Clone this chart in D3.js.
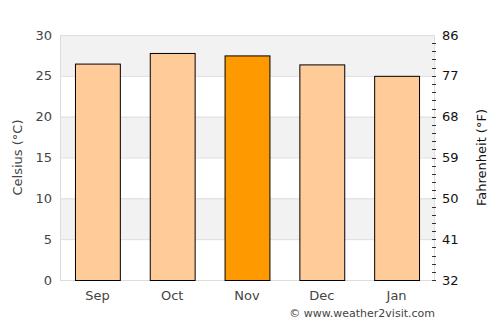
<!DOCTYPE html>
<html>
<head>
<meta charset="utf-8">
<script src="https://cdn.jsdelivr.net/npm/d3@7"></script>
<style>
    body { margin: 0; background: #fff; }
    text { font-family: "DejaVu Sans", sans-serif; fill: #444; }
    .right text, text.right { fill: #111; }
</style>
</head>
<body>
<div id="chart"></div>
<script>
// Data
const months = ["Sep", "Oct", "Nov", "Dec", "Jan"];
const tempC = [26.5, 27.8, 27.5, 26.4, 25.0];
const highlight = "Nov";
const celsiusTicks = [0, 5, 10, 15, 20, 25, 30];
const fahrenheitTicks = [32, 41, 50, 59, 68, 77, 86];

const width = 500, height = 325;
const margin = { top: 35, right: 66, bottom: 45, left: 60 };
const innerW = width - margin.left - margin.right;
const innerH = height - margin.top - margin.bottom;

var svg = d3.select("#chart")
    .append("svg")
    .attr("width", width)
    .attr("height", height);

var g = svg.append("g")
    .attr("transform", "translate(" + margin.left + "," + margin.top + ")");

var x = d3.scaleBand()
    .domain(months)
    .range([0, innerW])
    .paddingInner(0.4)
    .paddingOuter(0.2);

var y = d3.scaleLinear().domain([0, 30]).range([innerH, 0]);
var yF = d3.scaleLinear().domain([32, 86]).range([innerH, 0]);

// alternating bands
for (let i = 0; i < celsiusTicks.length - 1; i++) {
    if (i % 2 === 1) {
        g.append("rect")
            .attr("x", 0)
            .attr("y", y(celsiusTicks[i + 1]))
            .attr("width", innerW)
            .attr("height", y(celsiusTicks[i]) - y(celsiusTicks[i + 1]))
            .attr("fill", "#f2f2f2");
    }
}

// gridlines
g.selectAll(".grid")
    .data(celsiusTicks)
    .enter()
    .append("line")
    .attr("x1", 0)
    .attr("x2", innerW)
    .attr("y1", d => y(d) + 0.5)
    .attr("y2", d => y(d) + 0.5)
    .attr("stroke", "#dddddd");

// plot border left / right
g.append("line").attr("x1", 0.5).attr("x2", 0.5).attr("y1", 0).attr("y2", innerH).attr("stroke", "#dddddd");
g.append("line").attr("x1", innerW + 0.5).attr("x2", innerW + 0.5).attr("y1", 0).attr("y2", innerH).attr("stroke", "#dddddd");

// bars
g.selectAll(".bar")
    .data(months)
    .enter()
    .append("rect")
    .attr("x", d => x(d) + 0.5)
    .attr("y", (d, i) => y(tempC[i]) + 0.5)
    .attr("width", x.bandwidth())
    .attr("height", (d, i) => innerH - y(tempC[i]))
    .attr("fill", d => d === highlight ? "#ff9900" : "#ffcc99")
    .attr("stroke", "#000")
    .attr("stroke-width", 1);

// left axis labels
g.selectAll(".ylab")
    .data(celsiusTicks)
    .enter()
    .append("text")
    .attr("x", -8)
    .attr("y", d => y(d))
    .attr("dy", "0.35em")
    .attr("text-anchor", "end")
    .style("font-size", "13px")
    .text(d => d);

// right axis: minor ticks every 1 °C, labels in °F
var minor = d3.range(0, 30);
g.selectAll(".rtick")
    .data(minor)
    .enter()
    .append("line")
    .attr("x1", innerW - 2)
    .attr("x2", innerW + 2)
    .attr("y1", d => Math.round(y(d)) + 0.5)
    .attr("y2", d => Math.round(y(d)) + 0.5)
    .attr("stroke", "#333");

g.selectAll(".flab")
    .data(fahrenheitTicks)
    .enter()
    .append("text")
    .attr("class", "right")
    .attr("x", innerW + 8)
    .attr("y", d => yF(d))
    .attr("dy", "0.35em")
    .attr("text-anchor", "start")
    .style("font-size", "13px")
    .text(d => d);

// x labels
g.selectAll(".xlab")
    .data(months)
    .enter()
    .append("text")
    .attr("x", d => x(d) + x.bandwidth() / 2)
    .attr("y", innerH + 20)
    .attr("text-anchor", "middle")
    .style("font-size", "13px")
    .text(d => d);

// axis titles
svg.append("text")
    .attr("transform", "translate(22," + (margin.top + innerH / 2) + ") rotate(-90)")
    .attr("text-anchor", "middle")
    .style("font-size", "13px")
    .text("Celsius (°C)");

svg.append("text")
    .attr("class", "right")
    .attr("transform", "translate(486," + (margin.top + innerH / 2) + ") rotate(-90)")
    .attr("text-anchor", "middle")
    .style("font-size", "13px")
    .text("Fahrenheit (°F)");

// credit
svg.append("text")
    .attr("x", 435)
    .attr("y", 317)
    .attr("text-anchor", "end")
    .style("font-size", "11px")
    .text("© www.weather2visit.com");
</script>
</body>
</html>
